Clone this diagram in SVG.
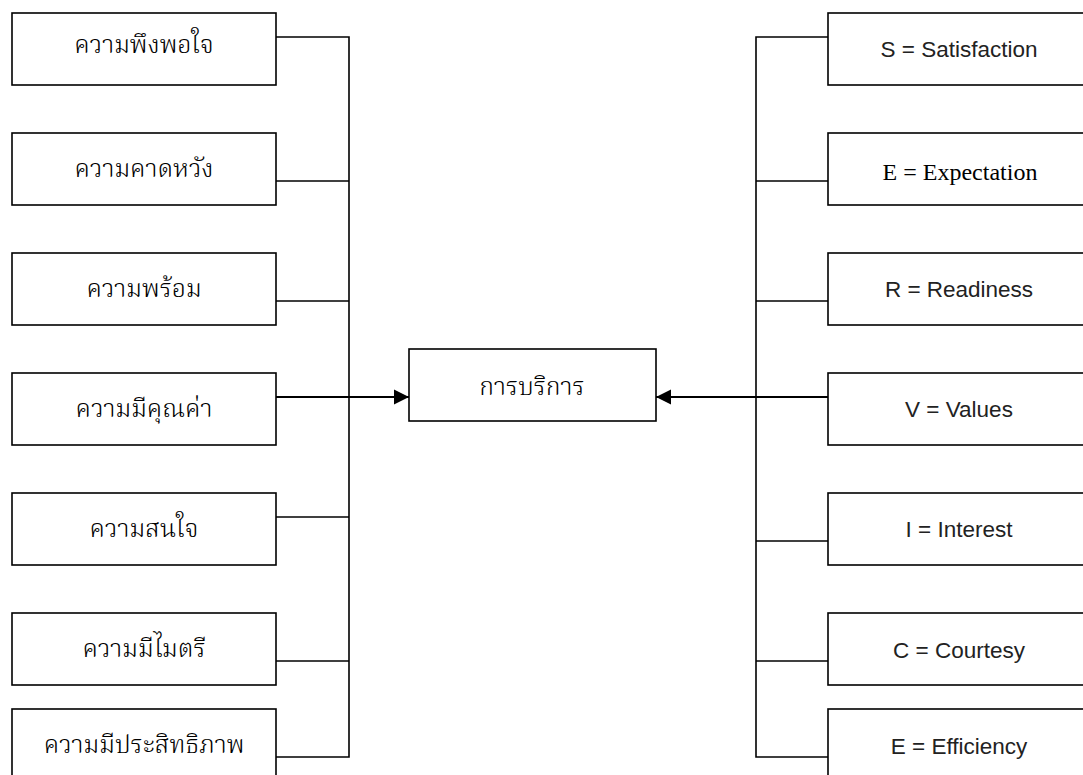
<svg xmlns="http://www.w3.org/2000/svg" width="1083" height="775" viewBox="0 0 1083 775">
<defs>
<style>
.box{fill:#fff;stroke:#000;stroke-width:1.6}
.ln{fill:none;stroke:#000;stroke-width:1.6}
.ar{fill:none;stroke:#000;stroke-width:2.2}
.th{font-family:"Noto Serif Thai","Noto Sans Thai","Noto Sans","DejaVu Sans",sans-serif;font-size:25px;font-weight:300;fill:#000;text-anchor:middle}
.en{font-family:"Liberation Sans",Arial,sans-serif;font-size:22.5px;fill:#222;text-anchor:middle}
.tm{font-family:"Liberation Serif","Times New Roman",serif;font-size:24px;fill:#000;text-anchor:middle}
</style>
<marker id="ah" viewBox="0 0 10 10" refX="10" refY="5" markerWidth="7" markerHeight="7" markerUnits="strokeWidth" orient="auto">
<path d="M0,0 L10,5 L0,10 Z" fill="#000"/>
</marker>
</defs>
<rect width="1083" height="775" fill="#fff"/>
<g id="connectors">
<polyline class="ln" points="276,37 349,37 349,757 276,757"/>
<line class="ln" x1="276" y1="181" x2="349" y2="181"/>
<line class="ln" x1="276" y1="301" x2="349" y2="301"/>
<line class="ln" x1="276" y1="517" x2="349" y2="517"/>
<line class="ln" x1="276" y1="661" x2="349" y2="661"/>
<polyline class="ln" points="828,37 756,37 756,757 828,757"/>
<line class="ln" x1="756" y1="181" x2="828" y2="181"/>
<line class="ln" x1="756" y1="301" x2="828" y2="301"/>
<line class="ln" x1="756" y1="541" x2="828" y2="541"/>
<line class="ln" x1="756" y1="661" x2="828" y2="661"/>
<line class="ar" x1="276" y1="397" x2="409" y2="397" marker-end="url(#ah)"/>
<line class="ar" x1="828" y1="397" x2="656" y2="397" marker-end="url(#ah)"/>
</g>
<g id="center"><rect class="box" x="409" y="349" width="247" height="72"/><text class="th" x="532" y="395">การบริการ</text></g>
<g id="L1"><rect class="box" x="12" y="13" width="264" height="72"/><text class="th" x="144" y="53">ความพึงพอใจ</text></g>
<g id="L2"><rect class="box" x="12" y="133" width="264" height="72"/><text class="th" x="144" y="177">ความคาดหวัง</text></g>
<g id="L3"><rect class="box" x="12" y="253" width="264" height="72"/><text class="th" x="144" y="297">ความพร้อม</text></g>
<g id="L4"><rect class="box" x="12" y="373" width="264" height="72"/><text class="th" x="144" y="417">ความมีคุณค่า</text></g>
<g id="L5"><rect class="box" x="12" y="493" width="264" height="72"/><text class="th" x="144" y="537">ความสนใจ</text></g>
<g id="L6"><rect class="box" x="12" y="613" width="264" height="72"/><text class="th" x="144" y="657">ความมีไมตรี</text></g>
<g id="L7"><rect class="box" x="12" y="709" width="264" height="72"/><text class="th" x="144" y="753">ความมีประสิทธิภาพ</text></g>
<g id="R1"><rect class="box" x="828" y="13" width="262" height="72"/><text class="en" x="959" y="57">S = Satisfaction</text></g>
<g id="R2"><rect class="box" x="828" y="133" width="262" height="72"/><text class="tm" x="960" y="180">E = Expectation</text></g>
<g id="R3"><rect class="box" x="828" y="253" width="262" height="72"/><text class="en" x="959" y="297">R = Readiness</text></g>
<g id="R4"><rect class="box" x="828" y="373" width="262" height="72"/><text class="en" x="959" y="417">V = Values</text></g>
<g id="R5"><rect class="box" x="828" y="493" width="262" height="72"/><text class="en" x="959" y="537">I = Interest</text></g>
<g id="R6"><rect class="box" x="828" y="613" width="262" height="72"/><text class="en" x="959" y="658">C = Courtesy</text></g>
<g id="R7"><rect class="box" x="828" y="709" width="262" height="72"/><text class="en" x="959" y="754">E = Efficiency</text></g>
</svg>
